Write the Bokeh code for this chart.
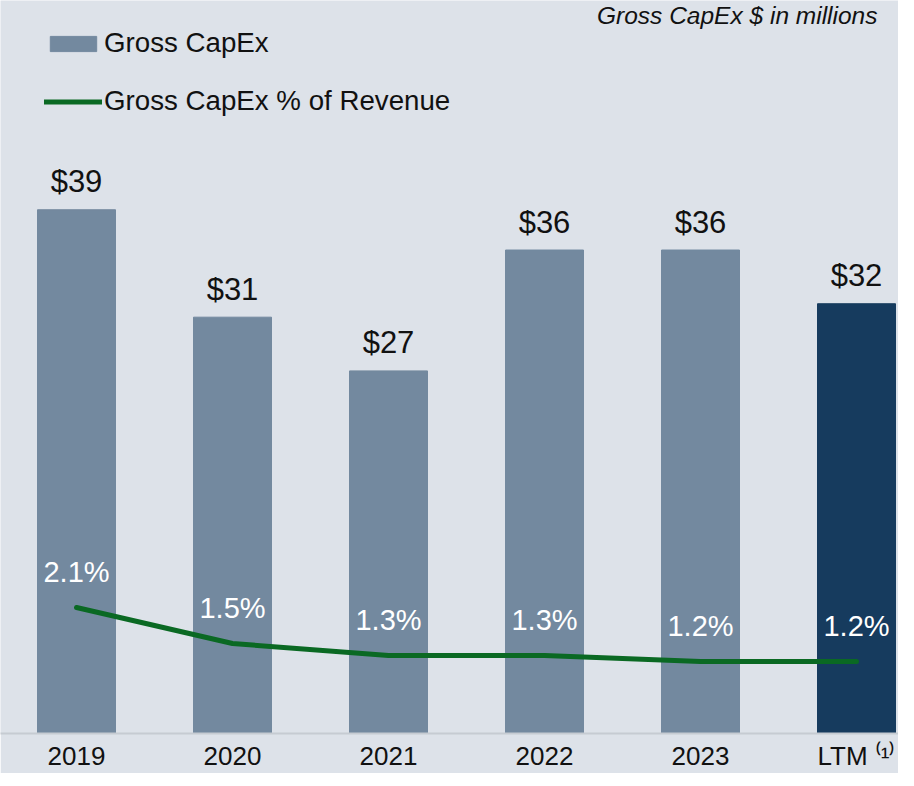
from bokeh.plotting import figure
from bokeh.models import (ColumnDataSource, Range1d, Legend, LegendItem,
                          Label, FixedTicker)
from bokeh.core.properties import value
from bokeh.embed import file_html
from bokeh.resources import INLINE

# ---- data ----
categories = ["2019", "2020", "2021", "2022", "2023", "LTM \u207d\u00b9\u207e"]
capex = [39, 31, 27, 36, 36, 32]
capex_labels = ["$39", "$31", "$27", "$36", "$36", "$32"]
pct_revenue = [2.1, 1.5, 1.3, 1.3, 1.2, 1.2]
pct_labels = ["2.1%", "1.5%", "1.3%", "1.3%", "1.2%", "1.2%"]
bar_colors = ["#73899f", "#73899f", "#73899f", "#73899f", "#73899f", "#163b5e"]

BG = "#dde2e9"
GREEN = "#0a6923"
FONT = "Liberation Sans"

xs = list(range(len(categories)))
src = ColumnDataSource(dict(x=xs, capex=capex, capex_lbl=capex_labels,
                            pct=pct_revenue, pct_lbl=pct_labels, color=bar_colors))

p = figure(width=898, height=770, frame_width=898, frame_height=733,
           output_backend="svg", toolbar_location=None,
           x_range=Range1d(-0.48718, 5.26923), y_range=Range1d(0, 54.58),
           min_border=0, min_border_left=0, min_border_right=0,
           min_border_top=0, min_border_bottom=0)
p.extra_y_ranges = {"pct": Range1d(0, 12.2167)}

p.background_fill_color = BG
p.border_fill_color = BG
p.outline_line_color = None
p.grid.visible = False
p.yaxis.visible = False

bars = p.vbar(x="x", top="capex", width=0.5, color="color", source=src)

p.text(x="x", y="capex", text="capex_lbl", source=src, y_offset=-28,
       text_align="center", text_baseline="alphabetic",
       text_font=value(FONT), text_font_size="31px", text_color="#111111")

line = p.line(x="x", y="pct", source=src, y_range_name="pct",
              line_color=GREEN, line_width=5, line_join="round", line_cap="round")

p.text(x="x", y="pct", text="pct_lbl", source=src, y_range_name="pct", y_offset=-36,
       text_align="center", text_baseline="alphabetic",
       text_font=value(FONT), text_font_size="29px", text_color="#ffffff")

ax = p.xaxis[0]
ax.ticker = FixedTicker(ticks=xs)
ax.major_label_overrides = {i: c for i, c in zip(xs, categories)}
ax.major_tick_line_color = None
ax.minor_tick_line_color = None
ax.major_tick_out = 0
ax.major_tick_in = 0
ax.axis_line_color = "#c6cbd2"
ax.axis_line_width = 2
ax.major_label_standoff = 7
ax.major_label_text_font = FONT
ax.major_label_text_font_size = "26px"
ax.major_label_text_color = "#111111"

legend = Legend(items=[
    LegendItem(label="Gross CapEx", renderers=[bars], index=0),
    LegendItem(label="Gross CapEx % of Revenue", renderers=[line]),
], location=(44, 616), orientation="vertical",
    glyph_width=58, glyph_height=19, label_standoff=2, spacing=26,
    padding=0, margin=0, border_line_color=None, background_fill_alpha=0,
    label_text_font=FONT, label_text_font_size="27.7px", label_text_color="#111111")
p.add_layout(legend, "center")

title = Label(x=877, y=718, x_units="screen", y_units="screen",
              text="Gross CapEx $ in millions", text_align="right",
              text_baseline="alphabetic", text_font=FONT, text_font_style="italic",
              text_font_size="24.5px", text_color="#111111")
p.add_layout(title)

open("out.html", "w").write(file_html(p, INLINE))
